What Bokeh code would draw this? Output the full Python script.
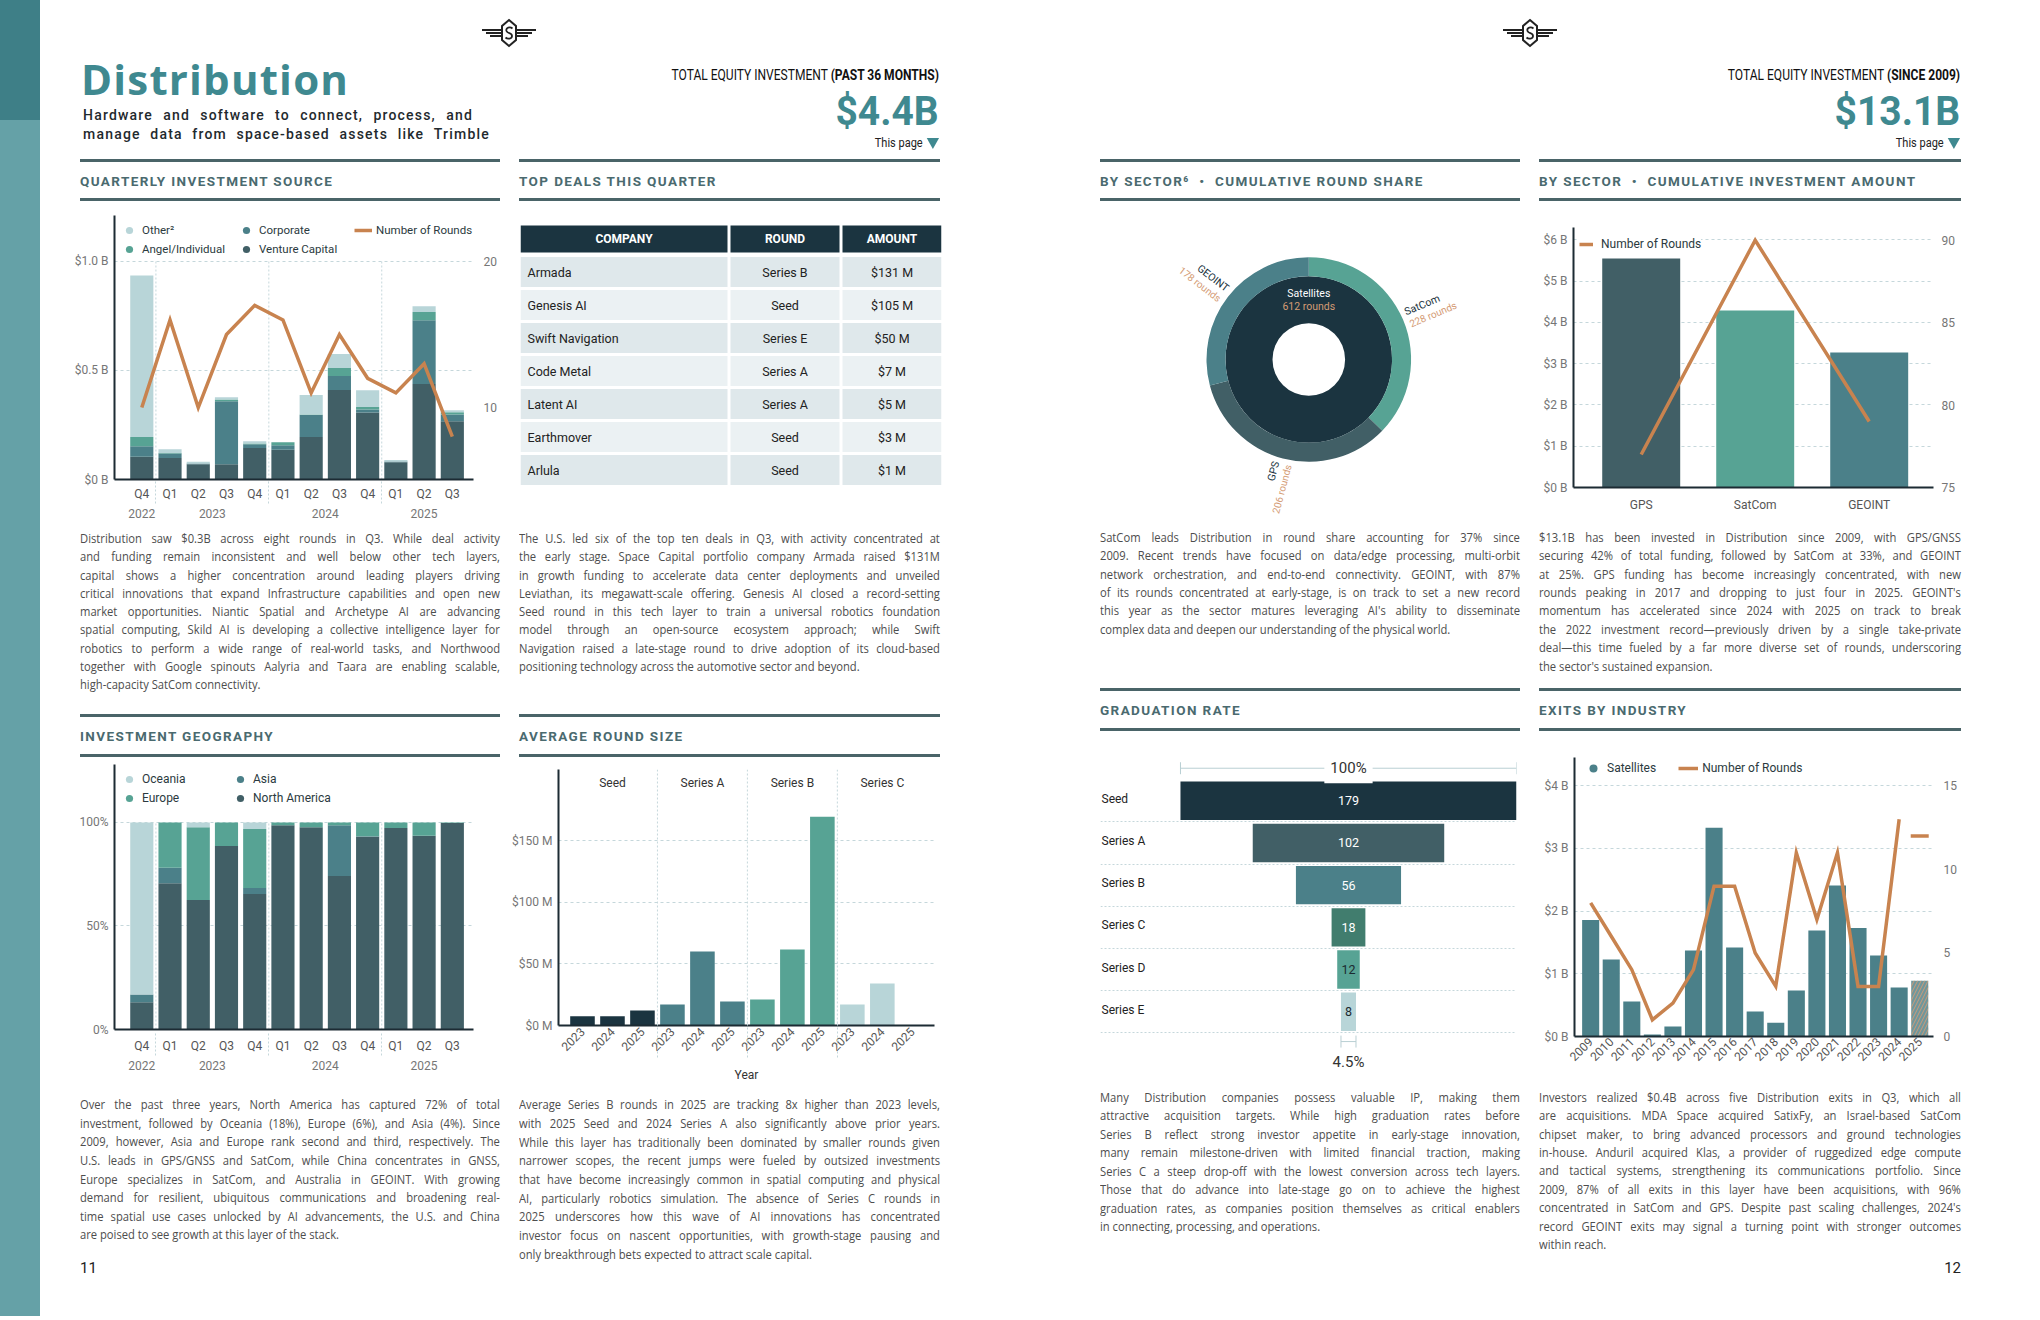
import math
from bokeh.plotting import figure
from bokeh.models import (ColumnDataSource, Range1d, LinearAxis, FixedTicker, Grid, Legend,
                          LegendItem, Span, LabelSet, Label, Whisker, TeeHead, Div)
from bokeh.layouts import row, column
from bokeh.embed import file_html
from bokeh.resources import INLINE
from bokeh.core.properties import value

# ------------------------------------------------------------------ DATA
quarters = ["Q4", "Q1", "Q2", "Q3", "Q4", "Q1", "Q2", "Q3", "Q4", "Q1", "Q2", "Q3"]
quarter_years = ["2022", "2023", "2023", "2023", "2023", "2024", "2024", "2024", "2024", "2025", "2025", "2025"]

src_vc = [0.104, 0.099, 0.070, 0.070, 0.145, 0.136, 0.195, 0.411, 0.307, 0.079, 0.438, 0.267]
src_corporate = [0.049, 0.020, 0.003, 0.289, 0.017, 0.021, 0.101, 0.064, 0.014, 0.004, 0.293, 0.031]
src_angel = [0.042, 0.002, 0.000, 0.008, 0.003, 0.014, 0.002, 0.036, 0.012, 0.000, 0.037, 0.010]
src_other = [0.741, 0.018, 0.008, 0.010, 0.011, 0.000, 0.090, 0.065, 0.076, 0.006, 0.027, 0.010]
src_rounds = [10, 16, 10, 15, 17, 16, 11, 15, 12, 11, 13, 8]
src_yticks = [0, 0.5, 1.0]
src_ytick_labels = ["$0 B", "$0.5 B", "$1.0 B"]
src_rticks = [10, 20]

geo_na = [13.2, 70.7, 62.5, 88.6, 65.4, 98.7, 97.7, 74.1, 93.1, 97.3, 93.6, 99.7]
geo_asia = [3.7, 7.4, 0.0, 0.0, 2.9, 0.0, 0.0, 24.6, 0.3, 0.0, 0.0, 0.0]
geo_europe = [0.0, 21.9, 35.2, 11.4, 28.6, 1.3, 2.3, 1.3, 6.6, 2.7, 6.4, 0.3]
geo_oceania = [83.1, 0.0, 2.3, 0.0, 3.1, 0.0, 0.0, 0.0, 0.0, 0.0, 0.0, 0.0]
geo_yticks = [0, 50, 100]
geo_ytick_labels = ["0%", "50%", "100%"]

deal_companies = ["Armada", "Genesis AI", "Swift Navigation", "Code Metal", "Latent AI", "Earthmover", "Arlula"]
deal_rounds = ["Series B", "Seed", "Series E", "Series A", "Series A", "Seed", "Seed"]
deal_amounts = ["$131 M", "$105 M", "$50 M", "$7 M", "$5 M", "$3 M", "$1 M"]
deal_headers = ["COMPANY", "ROUND", "AMOUNT"]

round_stages = ["Seed", "Series A", "Series B", "Series C"]
round_years = ["2023", "2024", "2025"]
avg_seed = [7.6, 7.6, 12.2]
avg_series_a = [17.0, 60.0, 19.5]
avg_series_b = [21.1, 61.7, 169.5]
avg_series_c = [17.0, 34.1, 0.0]
avg_yticks = [0, 50, 100, 150]
avg_ytick_labels = ["$0 M", "$50 M", "$100 M", "$150 M"]

ring_sectors = ["SatCom", "GPS", "GEOINT"]
ring_rounds = [228, 206, 178]
satellites_rounds = 612

sector_names = ["GPS", "SatCom", "GEOINT"]
sector_amounts = [5.55, 4.29, 3.27]
sector_rounds = [77, 90, 79]
sector_yticks = [0, 1, 2, 3, 4, 5, 6]
sector_ytick_labels = ["$0 B", "$1 B", "$2 B", "$3 B", "$4 B", "$5 B", "$6 B"]
sector_rticks = [75, 80, 85, 90]

grad_stages = ["Seed", "Series A", "Series B", "Series C", "Series D", "Series E"]
grad_counts = [179, 102, 56, 18, 12, 8]

exit_years = ["2009", "2010", "2011", "2012", "2013", "2014", "2015", "2016", "2017",
              "2018", "2019", "2020", "2021", "2022", "2023", "2024", "2025"]
exit_amounts = [1.86, 1.23, 0.56, 0.03, 0.16, 1.37, 3.33, 1.42, 0.40,
                0.22, 0.735, 1.69, 2.41, 1.73, 1.29, 0.78, 0.89]
exit_rounds = [8, 6, 4, 1, 2, 4, 9, 9, 5, 3, 11, 7, 11, 3, 3, 13, 12]
exit_partial_year = "2025"
exit_yticks = [0, 1, 2, 3, 4]
exit_ytick_labels = ["$0 B", "$1 B", "$2 B", "$3 B", "$4 B"]
exit_rticks = [0, 5, 10, 15]

# ------------------------------------------------------------------ TEXT
p1_lines = [
    "Distribution saw $0.3B across eight rounds in Q3. While deal activity",
    "and funding remain inconsistent and well below other tech layers,",
    "capital shows a higher concentration around leading players driving",
    "critical innovations that expand Infrastructure capabilities and open new",
    "market opportunities. Niantic Spatial and Archetype AI are advancing",
    "spatial computing, Skild AI is developing a collective intelligence layer for",
    "robotics to perform a wide range of real-world tasks, and Northwood",
    "together with Google spinouts Aalyria and Taara are enabling scalable,",
    "high-capacity SatCom connectivity.",
]
p2_lines = [
    "The U.S. led six of the top ten deals in Q3, with activity concentrated at",
    "the early stage. Space Capital portfolio company Armada raised $131M",
    "in growth funding to accelerate data center deployments and unveiled",
    "Leviathan, its megawatt-scale offering. Genesis AI closed a record-setting",
    "Seed round in this tech layer to train a universal robotics foundation",
    "model through an open-source ecosystem approach; while Swift",
    "Navigation raised a late-stage round to drive adoption of its cloud-based",
    "positioning technology across the automotive sector and beyond.",
]
p3_lines = [
    "SatCom leads Distribution in round share accounting for 37% since",
    "2009. Recent trends have focused on data/edge processing, multi-orbit",
    "network orchestration, and end-to-end connectivity. GEOINT, with 87%",
    "of its rounds concentrated at early-stage, is on track to set a new record",
    "this year as the sector matures leveraging AI's ability to disseminate",
    "complex data and deepen our understanding of the physical world.",
]
p4_lines = [
    "$13.1B has been invested in Distribution since 2009, with GPS/GNSS",
    "securing 42% of total funding, followed by SatCom at 33%, and GEOINT",
    "at 25%. GPS funding has become increasingly concentrated, with new",
    "rounds peaking in 2017 and dropping to just four in 2025. GEOINT's",
    "momentum has accelerated since 2024 with 2025 on track to break",
    "the 2022 investment record\u2014previously driven by a single take-private",
    "deal\u2014this time fueled by a far more diverse set of rounds, underscoring",
    "the sector's sustained expansion.",
]
p5_lines = [
    "Over the past three years, North America has captured 72% of total",
    "investment, followed by Oceania (18%), Europe (6%), and Asia (4%). Since",
    "2009, however, Asia and Europe rank second and third, respectively. The",
    "U.S. leads in GPS/GNSS and SatCom, while China concentrates in GNSS,",
    "Europe specializes in SatCom, and Australia in GEOINT. With growing",
    "demand for resilient, ubiquitous communications and broadening real-",
    "time spatial use cases unlocked by AI advancements, the U.S. and China",
    "are poised to see growth at this layer of the stack.",
]
p6_lines = [
    "Average Series B rounds in 2025 are tracking 8x higher than 2023 levels,",
    "with 2025 Seed and 2024 Series A also significantly above prior years.",
    "While this layer has traditionally been dominated by smaller rounds given",
    "narrower scopes, the recent jumps were fueled by outsized investments",
    "that have become increasingly common in spatial computing and physical",
    "AI, particularly robotics simulation. The absence of Series C rounds in",
    "2025 underscores how this wave of AI innovations has concentrated",
    "investor focus on nascent opportunities, with growth-stage pausing and",
    "only breakthrough bets expected to attract scale capital.",
]
p7_lines = [
    "Many Distribution companies possess valuable IP, making them",
    "attractive acquisition targets. While high graduation rates before",
    "Series B reflect strong investor appetite in early-stage innovation,",
    "many remain milestone-driven with limited financial traction, making",
    "Series C a steep drop-off with the lowest conversion across tech layers.",
    "Those that do advance into late-stage go on to achieve the highest",
    "graduation rates, as companies position themselves as critical enablers",
    "in connecting, processing, and operations.",
]
p8_lines = [
    "Investors realized $0.4B across five Distribution exits in Q3, which all",
    "are acquisitions. MDA Space acquired SatixFy, an Israel-based SatCom",
    "chipset maker, to bring advanced processors and ground technologies",
    "in-house. Anduril acquired Klas, a provider of ruggedized edge compute",
    "and tactical systems, strengthening its communications portfolio. Since",
    "2009, 87% of all exits in this layer have been acquisitions, with 96%",
    "concentrated in SatCom and GPS. Despite past scaling challenges, 2024's",
    "record GEOINT exits may signal a turning point with stronger outcomes",
    "within reach.",
]

# ------------------------------------------------------------------ STYLE
NAVY = "#1b3440"
SLATE = "#415f66"
TEAL = "#4b8089"
GREEN = "#57a394"
LIGHT = "#b8d5d8"
DKGREEN = "#417d6e"
ORANGE = "#c8834f"
ORANGE_T = "#d49b74"
GRIDC = "#c5d7db"
AXISC = "#1c2b33"
TICKC = "#767676"
LEGTXT = "#2b3a40"
TITLE_TEAL = "#3f8990"
RULEC = "#4a6468"
HEADC = "#4a6a6f"
BODY = "#4d4d4d"
FONT = "Roboto"


def base_fig(w, h, xr, yr, bl, br, bt, bb):
    p = figure(width=w, height=h, x_range=xr, y_range=yr, x_axis_type=None, y_axis_type=None,
               output_backend="svg", toolbar_location=None, tools="",
               min_border_left=bl, min_border_right=br, min_border_top=bt, min_border_bottom=bb)
    p.outline_line_color = None
    p.border_fill_color = "white"
    p.background_fill_color = "white"
    return p


def add_axis(p, side, ticks, labels, line=True, range_name=None, standoff=6, color=TICKC,
             orient=None, minor=None, minor_in=0, size="12px"):
    kw = {}
    if range_name is not None:
        kw["y_range_name"] = range_name
    ax = LinearAxis(ticker=FixedTicker(ticks=list(ticks), minor_ticks=list(minor or [])), **kw)
    ax.major_label_overrides = {t: l for t, l in zip(ticks, labels)}
    ax.major_label_text_font = FONT
    ax.major_label_text_font_size = size
    ax.major_label_text_color = color
    ax.major_tick_out = 0
    ax.major_tick_in = 0
    ax.minor_tick_out = 0
    ax.minor_tick_in = minor_in
    ax.minor_tick_line_color = GRIDC
    ax.minor_tick_line_dash = "2 2"
    ax.minor_tick_line_width = 1
    if line:
        ax.axis_line_color = AXISC
        ax.axis_line_width = 2
    else:
        ax.axis_line_color = None
    ax.major_label_standoff = standoff
    if orient is not None:
        ax.major_label_orientation = orient
    p.add_layout(ax, side)
    return ax


def add_grid(p, ticks):
    p.add_layout(Grid(dimension=1, ticker=FixedTicker(ticks=list(ticks)), grid_line_color=GRIDC,
                      grid_line_dash="3 3", grid_line_width=1))


def legend(items, loc, **kw):
    opts = dict(location=loc, padding=0, margin=0, border_line_color=None, background_fill_alpha=0,
                label_text_font=FONT, label_text_font_size="12px", label_text_color=LEGTXT,
                glyph_width=20, glyph_height=18, label_height=18, label_standoff=4, spacing=1)
    opts.update(kw)
    return Legend(items=items, **opts)


# ------------------------------------------------------------------ FIG 1: quarterly source
nq = len(quarters)
xq = list(range(nq))
year_seps = [i - 0.5 for i in range(1, nq) if quarter_years[i] != quarter_years[i - 1]]
years_u = sorted(set(quarter_years))
year_centers = [sum(i for i in xq if quarter_years[i] == y) / quarter_years.count(y) for y in years_u]

src1 = ColumnDataSource(dict(x=xq, vc=src_vc, corp=src_corporate, angel=src_angel, other=src_other,
                             rounds=src_rounds))
p1 = base_fig(469, 320, Range1d(-0.967, 11.75), Range1d(0, 1.211), 74, 36, 10, 46)
p1.extra_y_ranges = {"rounds": Range1d(5.07, 23.15)}
add_grid(p1, src_yticks[1:])
k = len(year_seps)
p1.segment(x0=year_seps, y0=[0] * k, x1=year_seps, y1=[src_yticks[-1]] * k,
           line_color=GRIDC, line_dash="2 2", line_width=1)
p1.vbar_stack(["vc", "corp", "angel", "other"], x="x", width=0.82, source=src1,
              fill_color=[SLATE, TEAL, GREEN, LIGHT], line_color=None)
l1 = p1.line("x", "rounds", source=src1, y_range_name="rounds", line_color=ORANGE, line_width=3.5,
             line_join="miter")
d1 = {}
for name, col, fld in [("Other\u00b2", LIGHT, "other"), ("Angel/Individual", GREEN, "angel"),
                       ("Corporate", TEAL, "corp"), ("Venture Capital", SLATE, "vc")]:
    d1[name] = p1.scatter(x="x", y=fld, source=src1, size=0, marker="circle", fill_color=col,
                          line_color=None)
items1 = [LegendItem(label=n, renderers=[r]) for n, r in d1.items()]
items1.append(LegendItem(label="Number of Rounds", renderers=[l1]))
p1.add_layout(legend(items1, "top_left", orientation="vertical", nrows=2, margin=6,
                     glyph_width=18, label_width=94, label_text_font_size="11.5px"))
add_axis(p1, "left", src_yticks, src_ytick_labels, standoff=6)
add_axis(p1, "right", src_rticks, [str(t) for t in src_rticks], line=False, range_name="rounds",
         standoff=10)
add_axis(p1, "below", xq, quarters, standoff=7, color="#555555")
add_axis(p1, "below", year_centers, years_u, line=False, standoff=5, minor=year_seps, minor_in=22)

# ------------------------------------------------------------------ FIG 3: geography
src3 = ColumnDataSource(dict(x=xq, na=geo_na, asia=geo_asia, eu=geo_europe, oc=geo_oceania))
p3 = base_fig(469, 328, Range1d(-0.967, 11.75), Range1d(0, 128.0), 74, 36, 2, 61)
add_grid(p3, geo_yticks[1:])
p3.segment(x0=year_seps, y0=[0] * k, x1=year_seps, y1=[geo_yticks[-1]] * k,
           line_color=GRIDC, line_dash="2 2", line_width=1)
p3.vbar_stack(["na", "asia", "eu", "oc"], x="x", width=0.82, source=src3,
              fill_color=[SLATE, TEAL, GREEN, LIGHT], line_color=None)
d3 = {}
for name, col, fld in [("Oceania", LIGHT, "oc"), ("Europe", GREEN, "eu"),
                       ("Asia", TEAL, "asia"), ("North America", SLATE, "na")]:
    d3[name] = p3.scatter(x="x", y=fld, source=src3, size=0, marker="circle", fill_color=col,
                          line_color=None)
p3.add_layout(legend([LegendItem(label=n, renderers=[r]) for n, r in d3.items()], "top_left",
                     orientation="vertical", nrows=2, label_width=88, margin=6, glyph_width=18))
add_axis(p3, "left", geo_yticks, geo_ytick_labels, standoff=6)
add_axis(p3, "below", xq, quarters, standoff=9, color="#555555")
add_axis(p3, "below", year_centers, years_u, line=False, standoff=5, minor=year_seps, minor_in=24)

# ------------------------------------------------------------------ FIG 2: top deals table
n_deals = len(deal_companies)
tbl_edges = [(0, 207), (210, 319), (322, 421)]
p2 = base_fig(441, 320, Range1d(0, 421), Range1d(n_deals + 0.5, -0.5), 11, 9, 17, 39)
hl = [e[0] for e in tbl_edges]
hr = [e[1] for e in tbl_edges]
hc = [(a + b) / 2 for a, b in tbl_edges]
p2.quad(left=hl, right=hr, top=[-0.41] * 3, bottom=[0.41] * 3, fill_color=NAVY, line_color=None)
p2.text(x=hc, y=[0] * 3, text=deal_headers, text_align="center", text_baseline="middle",
        text_color="white", text_font=value(FONT), text_font_style="bold", text_font_size="12px")
cl, cr, ct, cb, cf = [], [], [], [], []
for i in range(n_deals):
    yv = i + 1
    fill = "#dfe8eb" if i % 2 == 0 else "#ebf1f3"
    for a, b in tbl_edges:
        cl.append(a); cr.append(b); ct.append(yv - 0.455); cb.append(yv + 0.455); cf.append(fill)
p2.quad(left=cl, right=cr, top=ct, bottom=cb, fill_color=cf, line_color=None)
rows_y = [i + 1 for i in range(n_deals)]
p2.text(x=[tbl_edges[0][0] + 7] * n_deals, y=rows_y, text=deal_companies, text_align="left",
        text_baseline="middle", text_color="#222222", text_font=value(FONT), text_font_size="12.5px")
p2.text(x=[hc[1]] * n_deals, y=rows_y, text=deal_rounds, text_align="center",
        text_baseline="middle", text_color="#222222", text_font=value(FONT), text_font_size="12.5px")
p2.text(x=[hc[2]] * n_deals, y=rows_y, text=deal_amounts, text_align="center",
        text_baseline="middle", text_color="#222222", text_font=value(FONT), text_font_size="12.5px")

# ------------------------------------------------------------------ FIG 4: average round size
stage_colors = [NAVY, TEAL, GREEN, LIGHT]
ny = len(round_years)
x4, v4, c4, lab4 = [], [], [], []
for si, vals in enumerate([avg_seed, avg_series_a, avg_series_b, avg_series_c]):
    for yi, v in enumerate(vals):
        x4.append(si * ny + yi); v4.append(v); c4.append(stage_colors[si]); lab4.append(round_years[yi])
stage_seps = [si * ny - 0.5 for si in range(1, len(round_stages))]
stage_centers = [si * ny + (ny - 1) / 2 for si in range(len(round_stages))]
AVG_TOP = 207.8
p4 = base_fig(441, 328, Range1d(-0.8, 11.74), Range1d(0, AVG_TOP), 48, 16, 7, 65)
add_grid(p4, avg_yticks[1:])
for s in stage_seps:
    p4.add_layout(Span(location=s, dimension="height", line_color=GRIDC, line_dash="2 2", line_width=1))
p4.vbar(x="x", top="v", width=0.82, fill_color="c", line_color=None,
        source=ColumnDataSource(dict(x=x4, v=v4, c=c4)))
p4.text(x=stage_centers, y=[AVG_TOP * 0.948] * len(stage_centers), text=round_stages,
        text_align="center", text_baseline="middle", text_font=value(FONT),
        text_font_size="12px", text_color="#333333")
add_axis(p4, "left", avg_yticks, avg_ytick_labels, standoff=6)
add_axis(p4, "below", x4, lab4, standoff=4, orient=math.pi / 4, color="#555555")
ax4b = add_axis(p4, "below", [], [], line=False, standoff=0, minor=stage_seps, minor_in=34)
ax4b.axis_label = "Year"
ax4b.axis_label_text_font = FONT
ax4b.axis_label_text_font_style = "normal"
ax4b.axis_label_text_font_size = "12px"
ax4b.axis_label_text_color = "#333333"
ax4b.axis_label_standoff = 10

# ------------------------------------------------------------------ FIG 5: donut
R_HOLE, R_IN, R_OUT, R_LAB = 36.3, 83.3, 102.3, 107
p5 = base_fig(439, 320, Range1d(-218.3, 220.7), Range1d(-166, 154), 0, 0, 0, 0)
p5.annulus(x=0, y=0, inner_radius=R_HOLE, outer_radius=R_IN, fill_color=NAVY, line_color=None)
starts, ends, mids = [], [], []
cum = 0
for v in ring_rounds:
    a0 = math.pi / 2 - 2 * math.pi * cum / satellites_rounds
    cum += v
    a1 = math.pi / 2 - 2 * math.pi * cum / satellites_rounds
    starts.append(a0); ends.append(a1); mids.append((a0 + a1) / 2)
p5.annular_wedge(x=0, y=0, inner_radius=R_IN, outer_radius=R_OUT, start_angle="s", end_angle="e",
                 direction="clock", fill_color="c", line_color=None,
                 source=ColumnDataSource(dict(s=starts, e=ends, c=[GREEN, SLATE, TEAL])))
nx, ny_, na_, nal, rx, ry, rt = [], [], [], [], [], [], []
for name, cnt, m in zip(ring_sectors, ring_rounds, mids):
    right = math.cos(m) >= 0
    th = m if right else m + math.pi
    ax_, ay_ = R_LAB * math.cos(m), R_LAB * math.sin(m)
    dx, dy = math.sin(th), -math.cos(th)
    nx.append(ax_ - 6 * dx); ny_.append(ay_ - 6 * dy)
    rx.append(ax_ + 7 * dx); ry.append(ay_ + 7 * dy)
    na_.append(th); nal.append("left" if right else "right")
    rt.append(f"{cnt} rounds")
p5.text(x=nx, y=ny_, text=ring_sectors, angle=na_, text_align=nal, text_baseline="middle",
        text_color=NAVY, text_font=value(FONT), text_font_size="10.5px")
p5.text(x=rx, y=ry, text=rt, angle=na_, text_align=nal, text_baseline="middle",
        text_color=ORANGE_T, text_font=value(FONT), text_font_size="10px")
r_mid = (R_HOLE + R_IN) / 2
p5.text(x=[0], y=[r_mid + 6], text=["Satellites"], text_align="center", text_baseline="middle",
        text_color="white", text_font=value(FONT), text_font_size="10.5px")
p5.text(x=[0], y=[r_mid - 7], text=[f"{satellites_rounds} rounds"], text_align="center",
        text_baseline="middle", text_color=ORANGE_T, text_font=value(FONT), text_font_size="10.5px")

# ------------------------------------------------------------------ FIG 6: sector amounts
xs = list(range(len(sector_names)))
p6 = base_fig(490, 320, Range1d(-0.594, 2.564), Range1d(0, 6.3), 44, 86, 22, 38)
p6.extra_y_ranges = {"rounds": Range1d(75, 90.77)}
add_grid(p6, sector_yticks[1:])
p6.vbar(x=xs, top=sector_amounts, width=0.684, fill_color=[SLATE, GREEN, TEAL], line_color=None)
l6 = p6.line(x=xs, y=sector_rounds, y_range_name="rounds", line_color=ORANGE, line_width=3.5,
             line_join="miter")
p6.add_layout(legend([LegendItem(label="Number of Rounds", renderers=[l6])], (6, 236),
                     background_fill_color="white", background_fill_alpha=1, padding=6,
                     glyph_width=14, glyph_height=12, label_height=12, label_standoff=8))
add_axis(p6, "left", sector_yticks, sector_ytick_labels, standoff=6)
add_axis(p6, "right", sector_rticks, [str(t) for t in sector_rticks], line=False,
         range_name="rounds", standoff=8)
add_axis(p6, "below", xs, sector_names, standoff=10, color="#555555")

# ------------------------------------------------------------------ FIG 7: graduation funnel
ng = len(grad_stages)
gy = list(range(ng))
grad_colors = [NAVY, SLATE, TEAL, DKGREEN, GREEN, LIGHT]
grad_txt = ["white", "white", "white", "white", "#1b2a30", "#1b2a30"]
p7 = base_fig(439, 348, Range1d(-132.1, 89.5), Range1d(6.51, -1.19), 10, 13, 13, 10)
p7.add_layout(Grid(dimension=1, ticker=FixedTicker(ticks=[i + 0.5 for i in gy]), grid_line_color=GRIDC,
                   grid_line_dash="2 2", grid_line_width=1))
src7 = ColumnDataSource(dict(y=gy, l=[-v / 2 for v in grad_counts], r=[v / 2 for v in grad_counts],
                             c=grad_colors, t=[str(v) for v in grad_counts], tc=grad_txt,
                             xc=[0.0] * ng, stage=grad_stages))
p7.hbar(y="y", left="l", right="r", height=0.91, fill_color="c", line_color=None, source=src7)
p7.text(x="xc", y="y", text="t", text_color="tc", text_align="center", text_baseline="middle",
        text_font=value(FONT), text_font_size="12.5px", source=src7)
p7.add_layout(LabelSet(x=1, x_units="screen", y="y", text="stage", source=src7, y_offset=2,
                       text_baseline="middle", text_font=value(FONT), text_font_size="12px",
                       text_color="#222222"))
WHISK = "#b9cfd3"
top_b = gy[0] - 0.77
bot_b = gy[-1] + 0.706
wsrc = ColumnDataSource(dict(b=[top_b, bot_b], lo=[-grad_counts[0] / 2, -grad_counts[-1] / 2],
                             hi=[grad_counts[0] / 2, grad_counts[-1] / 2]))
p7.add_layout(Whisker(base="b", lower="lo", upper="hi", dimension="width", source=wsrc,
                      line_color=WHISK, line_width=1,
                      upper_head=TeeHead(size=12, line_color=WHISK, line_width=1),
                      lower_head=TeeHead(size=12, line_color=WHISK, line_width=1)))
p7.add_layout(Label(x=0, y=top_b, text=f"{100 * grad_counts[0] / grad_counts[0]:.0f}%",
                    text_align="center", text_baseline="middle", text_font=FONT,
                    text_font_size="15px", text_color="#333333", background_fill_color="white",
                    padding=6))
p7.add_layout(Label(x=0, y=bot_b + 0.48, text=f"{100 * grad_counts[-1] / grad_counts[0]:.1f}%",
                    text_align="center", text_baseline="middle", text_font=FONT,
                    text_font_size="15px", text_color="#333333"))

# ------------------------------------------------------------------ FIG 8: exits
ne = len(exit_years)
xe = list(range(ne))
full_idx = [i for i in xe if exit_years[i] != exit_partial_year]
part_idx = [i for i in xe if exit_years[i] == exit_partial_year]
p8 = base_fig(490, 348, Range1d(-0.786, 16.67), Range1d(0, 4.45), 45, 86, 20, 49)
p8.extra_y_ranges = {"rounds": Range1d(0, 16.7)}
add_grid(p8, exit_yticks[1:])
src8 = ColumnDataSource(dict(x=xe, v=exit_amounts,
                             c=[TEAL if y != exit_partial_year else "#6f979c" for y in exit_years],
                             h=[" " if y != exit_partial_year else "/" for y in exit_years]))
p8.vbar(x="x", top="v", width=0.83, fill_color="c", line_color=None, hatch_pattern="h",
        hatch_color=ORANGE_T, hatch_alpha=0.9, hatch_scale=7, hatch_weight=1, source=src8)
d8 = p8.scatter(x="x", y="v", source=src8, size=0, marker="circle", fill_color=TEAL, line_color=None)
l8 = p8.line(x=full_idx, y=[exit_rounds[i] for i in full_idx], y_range_name="rounds",
             line_color=ORANGE, line_width=3.5, line_join="miter")
p8.scatter(x=part_idx, y=[exit_rounds[i] for i in part_idx], y_range_name="rounds", marker="dash",
           size=18, line_color=ORANGE, line_width=3.5)
p8.add_layout(legend([LegendItem(label="Satellites", renderers=[d8]),
                      LegendItem(label="Number of Rounds", renderers=[l8])], (9, 258),
                     orientation="horizontal", spacing=22, glyph_height=20, label_height=20))
add_axis(p8, "left", exit_yticks, exit_ytick_labels, standoff=6)
add_axis(p8, "right", exit_rticks, [str(t) for t in exit_rticks], line=False, range_name="rounds",
         standoff=10)
add_axis(p8, "below", xe, exit_years, standoff=3, orient=math.pi / 4, color="#555555")


# ------------------------------------------------------------------ HTML pieces
def esc(s):
    return s.replace("&", "&amp;").replace("<", "&lt;").replace(">", "&gt;")


def T(content, top, style, left=None, right=None):
    pos = f"left:{left}px;" if right is None else f"right:{right}px;"
    return f'<div style="position:absolute;{pos}top:{top}px;white-space:nowrap;{style}">{content}</div>'


def rule(left, top, width, h=3):
    return (f'<div style="position:absolute;left:{left}px;top:{top}px;width:{width}px;height:{h}px;'
            f'background:{RULEC}"></div>')


def section(left, width, t_rule, t_center, b_rule, title):
    return (rule(left, t_rule, width, 3) +
            T(title, t_center - 9, f"height:18px;line-height:18px;font-family:Roboto;font-weight:700;"
              f"font-size:13.5px;letter-spacing:1.4px;color:{HEADC}", left=left) +
            rule(left, b_rule, width, 3))


def justified_line(text, lh):
    words = " ".join(f"<span>{esc(w)}</span>" for w in text.split())
    return (f'<div style="display:flex;justify-content:space-between;height:{lh}px;'
            f'line-height:{lh}px;white-space:nowrap">{words}</div>')


def para(lines, left, top, width, lh, fs=11.8, scale=0.95):
    iw = width / scale
    out = []
    for i, ln in enumerate(lines):
        if i < len(lines) - 1:
            out.append(justified_line(ln, lh))
        else:
            out.append(f'<div style="height:{lh}px;line-height:{lh}px;white-space:nowrap">{esc(ln)}</div>')
    return (f'<div style="position:absolute;left:{left}px;top:{top}px;width:{iw:.1f}px;'
            f'transform:scaleX({scale});transform-origin:0 0;font-family:\'Open Sans\';'
            f'font-size:{fs}px;color:{BODY}">' + "".join(out) + '</div>')


def page_div(w, h, inner):
    return Div(text=f'<div style="position:relative;width:{w}px;height:{h}px;overflow:visible">{inner}</div>',
               width=w, height=h, margin=(0, 0, 0, 0), disable_math=True,
               styles={"overflow": "visible"})


def total_block(right, label_norm, label_bold, amount):
    tri = (f'<span style="display:inline-block;width:0;height:0;border-left:7px solid transparent;'
           f'border-right:7px solid transparent;border-top:11px solid {TITLE_TEAL};'
           f'vertical-align:middle;margin-left:5px"></span>')
    return (T(f"{label_norm}<b>{label_bold}</b>", 66,
              "height:18px;line-height:18px;font-family:Roboto;font-size:14px;color:#111;"
              "transform:scaleX(0.86);transform-origin:100% 50%", right=right) +
            T(amount, 87, f"height:48px;line-height:48px;font-family:Roboto;font-weight:700;font-size:41px;"
              f"color:{TITLE_TEAL};transform:scaleX(0.95);transform-origin:100% 50%", right=right) +
            T(f"This page{tri}", 134, "height:18px;line-height:18px;font-family:Roboto;font-size:12.5px;"
              "color:#222;transform:scaleX(0.88);transform-origin:100% 50%", right=right))


def logo(center_x, center_y):
    svg = ('<svg width="60" height="30" viewBox="0 0 60 30" xmlns="http://www.w3.org/2000/svg">'
           '<path d="M30 2 L37 8 L37 22 L30 28 L23 22 L23 8 Z" fill="white" stroke="#222" stroke-width="2"/>'
           '<path d="M33.5 10.5 C31 8.5 26.5 9.5 27.5 13 C28.5 16 33 14.5 33 18 C33 21 28.5 21.5 26.5 19.5" '
           'fill="none" stroke="#222" stroke-width="1.8"/>'
           '<path d="M3 12 H22 M7 15 H22 M11 18 H22 M38 12 H57 M38 15 H53 M38 18 H49" '
           'stroke="#222" stroke-width="1.8"/></svg>')
    return (f'<div style="position:absolute;left:{center_x - 30}px;top:{center_y - 15}px;'
            f'width:60px;height:30px">{svg}</div>')


sub_style = "font-family:Roboto;font-weight:500;font-size:14px;letter-spacing:1.2px;color:#1f2a2e"
A1 = page_div(469, 205,
              T("Distribution", 50, f"height:57px;line-height:57px;font-family:'Open Sans';font-weight:700;"
                f"font-size:42px;letter-spacing:1.2px;color:{TITLE_TEAL}", left=41) +
              f'<div style="position:absolute;left:43px;top:106px;width:390px;{sub_style}">'
              + justified_line("Hardware and software to connect, process, and", 18) + '</div>' +
              f'<div style="position:absolute;left:43px;top:125px;width:407px;{sub_style}">'
              + justified_line("manage data from space-based assets like Trimble", 18) + '</div>' +
              logo(469, 33) +
              section(40, 420, 159, 181, 198, "QUARTERLY INVESTMENT SOURCE"))
B1 = page_div(441, 205, total_block(11, "TOTAL EQUITY INVESTMENT ", "(PAST 36 MONTHS)", "$4.4B") +
              section(10, 421, 159, 181, 198, "TOP DEALS THIS QUARTER"))
C1 = page_div(439, 205, logo(440, 33) +
              section(10, 420, 159, 181, 198,
                      "BY SECTOR\u2076 &nbsp;\u2022&nbsp; CUMULATIVE ROUND SHARE"))
D1 = page_div(490, 205, total_block(59, "TOTAL EQUITY INVESTMENT ", "(SINCE 2009)", "$13.1B") +
              section(10, 422, 159, 181, 198,
                      "BY SECTOR &nbsp;\u2022&nbsp; CUMULATIVE INVESTMENT AMOUNT"))

A3 = page_div(469, 182, para(p1_lines, 40, 4.2, 420, 18.25))
B3 = page_div(441, 182, para(p2_lines, 10, 4.2, 421, 18.25))
C3 = page_div(439, 157, para(p3_lines, 10, 2.8, 420, 18.4))
D3 = page_div(490, 157, para(p4_lines, 10, 2.8, 422, 18.4))

A4 = page_div(469, 55, section(40, 420, 7, 29, 47, "INVESTMENT GEOGRAPHY"))
B4 = page_div(441, 55, section(10, 421, 7, 29, 47, "AVERAGE ROUND SIZE"))
C4 = page_div(439, 55, section(10, 420, 6, 28, 46, "GRADUATION RATE"))
D4 = page_div(490, 55, section(10, 422, 6, 28, 46, "EXITS BY INDUSTRY"))

pn_style = "height:18px;line-height:18px;font-family:Roboto;font-size:15px;color:#222"
A6 = page_div(469, 210, para(p5_lines, 40, 5.3, 420, 18.6) + T("11", 169, pn_style, left=40))
B6 = page_div(441, 210, para(p6_lines, 10, 5.3, 421, 18.7))
C6 = page_div(439, 215, para(p7_lines, 10, 2.8, 420, 18.5))
D6 = page_div(490, 215, para(p8_lines, 10, 2.8, 422, 18.4) + T("12", 174, pn_style, right=58))

sidebar = page_div(40, 1316,
                   '<div style="position:absolute;left:0;top:0;width:40px;height:120px;background:#3e7f87"></div>'
                   '<div style="position:absolute;left:0;top:120px;width:40px;height:1196px;background:#65a1a7"></div>')
gap = page_div(140, 1300, "")

colA = column(A1, row(p1), A3, A4, row(p3), A6)
colB = column(B1, row(p2), B3, B4, row(p4), B6)
colC = column(C1, row(p5), C3, C4, row(p7), C6)
colD = column(D1, row(p6), D3, D4, row(p8), D6)
layout = row(sidebar, colA, colB, gap, colC, colD)

open("out.html", "w").write(file_html(layout, INLINE))
